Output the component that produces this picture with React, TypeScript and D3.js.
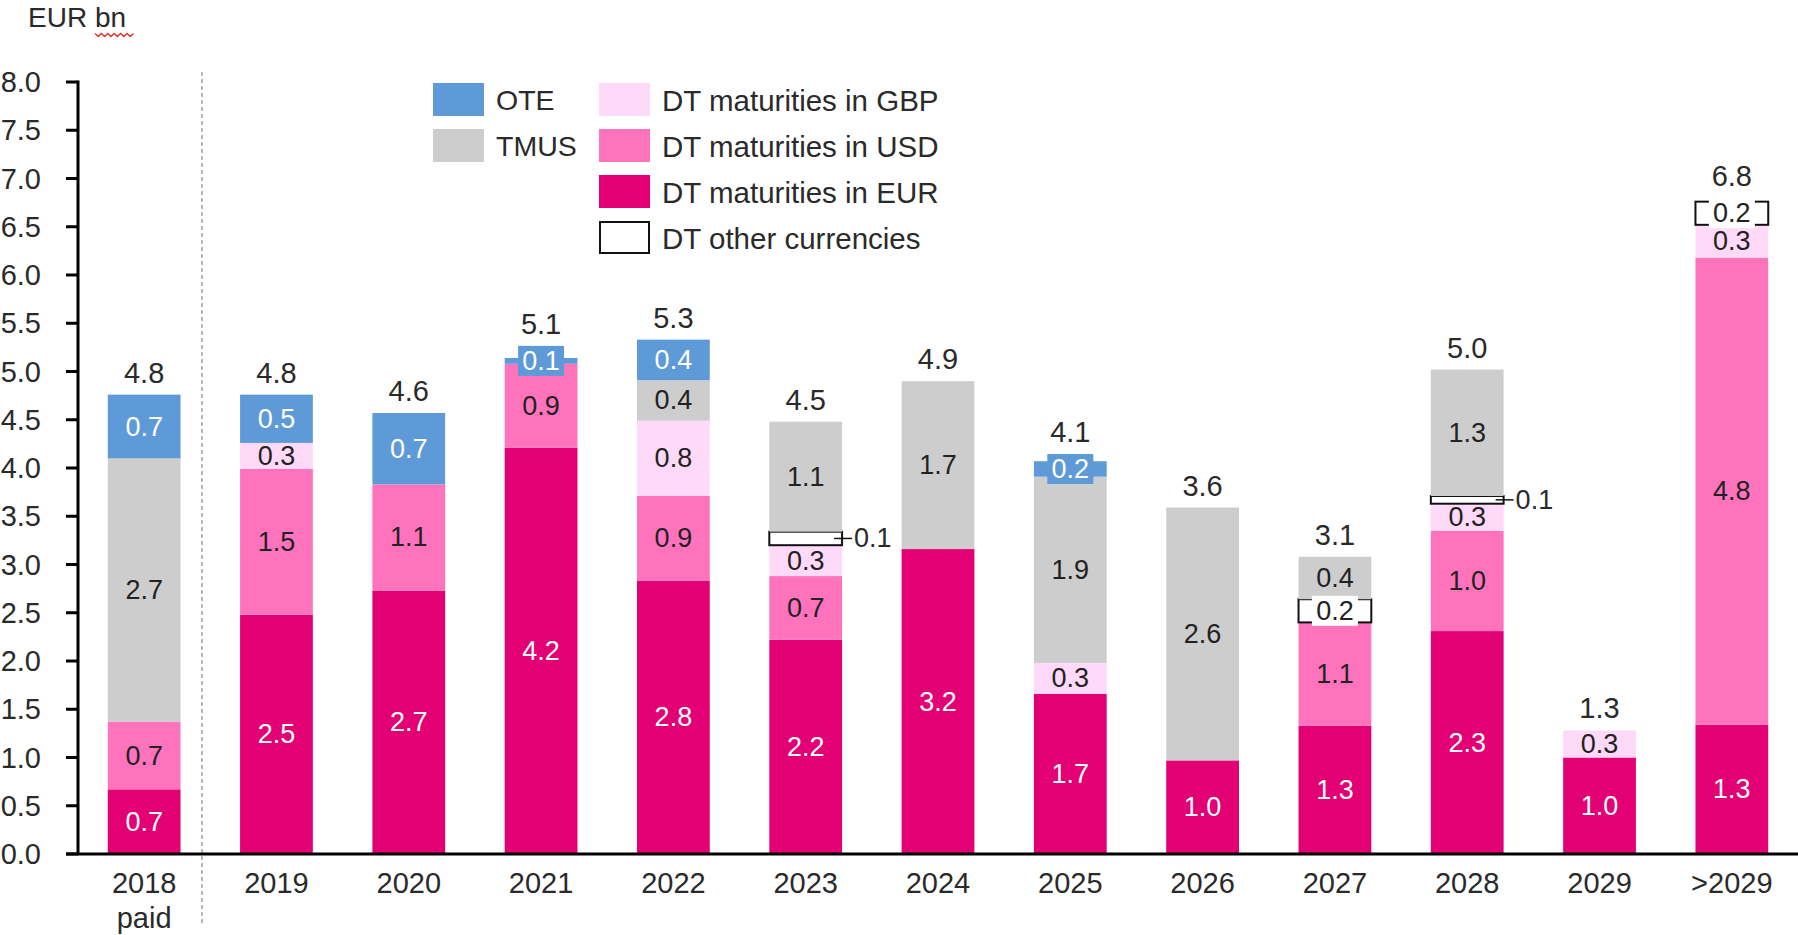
import React from "react";
import * as d3 from "d3";

const categories = ["2018\npaid", "2019", "2020", "2021", "2022", "2023", "2024", "2025", "2026", "2027", "2028", "2029", ">2029"];
const dtEUR = [0.67, 2.48, 2.73, 4.21, 2.83, 2.22, 3.16, 1.66, 0.97, 1.33, 2.31, 1.0, 1.34];
const dtUSD = [0.7, 1.51, 1.1, 0.87, 0.88, 0.66, 0, 0, 0, 1.07, 1.04, 0, 4.84];
const dtGBP = [0, 0.27, 0, 0, 0.78, 0.32, 0, 0.32, 0, 0, 0.28, 0.28, 0.34];
const dtOther = [0, 0, 0, 0, 0, 0.14, 0, 0, 0, 0.24, 0.08, 0, 0.24];
const tmus = [2.73, 0, 0, 0, 0.42, 1.14, 1.74, 1.93, 2.62, 0.44, 1.31, 0, 0];
const ote = [0.66, 0.5, 0.74, 0.06, 0.42, 0, 0, 0.16, 0, 0, 0, 0, 0];
const yTicks = [0, 0.5, 1, 1.5, 2, 2.5, 3, 3.5, 4, 4.5, 5, 5.5, 6, 6.5, 7, 7.5, 8];

const keys = ["eur", "usd", "gbp", "other", "tmus", "ote"];
const colors: Record<string, string> = {
  eur: "#e20074",
  usd: "#ff73bd",
  gbp: "#ffd9f8",
  other: "#ffffff",
  tmus: "#cdcdcd",
  ote: "#5e9ad7",
};
const labelColors: Record<string, string> = {
  eur: "#ffffff",
  usd: "#222222",
  gbp: "#222222",
  other: "#222222",
  tmus: "#222222",
  ote: "#ffffff",
};
const legendLeft = [
  { key: "ote", label: "OTE" },
  { key: "tmus", label: "TMUS" },
];
const legendRight = [
  { key: "gbp", label: "DT maturities in GBP" },
  { key: "usd", label: "DT maturities in USD" },
  { key: "eur", label: "DT maturities in EUR" },
  { key: "other", label: "DT other currencies" },
];

const W = 1798;
const H = 935;
const FONT = "'Liberation Sans', Arial, sans-serif";
const TXT = "#2a2a2a";

export default function App() {
  const rows = categories.map((c, i) => ({
    cat: c,
    eur: dtEUR[i],
    usd: dtUSD[i],
    gbp: dtGBP[i],
    other: dtOther[i],
    tmus: tmus[i],
    ote: ote[i],
  }));
  const stack = d3.stack<any>().keys(keys);
  const series = stack(rows);

  const x = d3.scaleBand<string>().domain(categories).range([78, 1798]).paddingInner(0.45).paddingOuter(0.225);
  const y = d3.scaleLinear().domain([0, 8]).range([854, 82]);
  const bw = x.bandwidth();

  const totals = rows.map((r) => keys.reduce((s, k) => s + (r as any)[k], 0));

  const labelW = 46;
  const labelH = 30;

  const segs: any[] = [];
  series.forEach((s) => {
    s.forEach((d, i) => {
      const v = d[1] - d[0];
      if (v <= 0) return;
      segs.push({ key: s.key, i, y0: d[0], y1: d[1], v });
    });
  });

  const segInfo = segs.map((s) => {
    const cx = x(categories[s.i])! + bw / 2;
    const cy = (y(s.y0) + y(s.y1)) / 2;
    const h = y(s.y0) - y(s.y1);
    const outside = s.key === "other" && s.v < 0.15;
    const needBg = !outside && h < labelH && (s.key === "ote" || s.key === "other");
    return { ...s, cx, cy, h, outside, needBg };
  });

  const topOf = totals.map((t, i) => {
    let top = y(t);
    segInfo.forEach((s) => {
      if (s.i === i && s.needBg) top = Math.min(top, s.cy - labelH / 2);
    });
    return top;
  });

  // squiggle under "bn"
  const sq: string[] = [];
  for (let k = 0; k <= 12; k++) {
    const px = 95 + k * 3.2;
    const py = 35 + (k % 2 === 0 ? -1.5 : 1.5);
    sq.push(`${k === 0 ? "M" : "L"}${px},${py}`);
  }

  return (
    <svg width={W} height={H} style={{ position: "absolute", left: 0, top: 0, display: "block" }} fontFamily={FONT}>
      <rect x={0} y={0} width={W} height={H} fill="#fff" />
      <text x={28} y={20} fontSize={28} fill={TXT} dominantBaseline="middle">EUR bn</text>
      <path d={sq.join("")} fill="none" stroke="#e03030" strokeWidth={1.3} />

      {/* separator */}
      <line x1={202} x2={202} y1={72} y2={923} stroke="#888" strokeWidth={1.2} strokeDasharray="4,3" />

      {/* bars */}
      {segInfo.map((s, j) => (
        <rect
          key={"r" + j}
          x={x(categories[s.i])!}
          width={bw}
          y={y(s.y1)}
          height={s.h}
          fill={colors[s.key]}
          stroke={s.key === "other" ? "#111" : "none"}
          strokeWidth={s.key === "other" ? 2 : 0}
        />
      ))}

      {/* segment labels */}
      {segInfo.map((s, j) => {
        const txt = s.v.toFixed(1);
        if (s.outside) {
          const xr = x(categories[s.i])! + bw;
          return (
            <g key={"l" + j}>
              <line x1={xr - 8} x2={xr + 10} y1={s.cy} y2={s.cy} stroke="#111" strokeWidth={1.5} />
              <text x={xr + 12} y={s.cy} fontSize={27} fill={TXT} dominantBaseline="central">{txt}</text>
            </g>
          );
        }
        return (
          <g key={"l" + j}>
            {s.needBg && (
              <rect x={s.cx - labelW / 2} y={s.cy - labelH / 2} width={labelW} height={labelH} fill={colors[s.key]} />
            )}
            <text x={s.cx} y={s.cy} fontSize={27} fill={labelColors[s.key]} textAnchor="middle" dominantBaseline="central">
              {txt}
            </text>
          </g>
        );
      })}

      {/* totals */}
      {totals.map((t, i) => (
        <text key={"t" + i} x={x(categories[i])! + bw / 2} y={topOf[i] - 22} fontSize={29} fill={TXT} textAnchor="middle" dominantBaseline="central">
          {t.toFixed(1)}
        </text>
      ))}

      {/* y axis */}
      <line x1={78} x2={78} y1={y(8) - 1.5} y2={y(0)} stroke="#000" strokeWidth={3} />
      {yTicks.map((t) => (
        <g key={"yt" + t}>
          <line x1={66} x2={78} y1={y(t)} y2={y(t)} stroke="#000" strokeWidth={3} />
          <text x={41} y={y(t)} fontSize={29} fill={TXT} textAnchor="end" dominantBaseline="central">
            {t.toFixed(1)}
          </text>
        </g>
      ))}
      {/* x axis */}
      <line x1={66} x2={W} y1={y(0)} y2={y(0)} stroke="#000" strokeWidth={3} />
      {categories.map((c) =>
        c.split("\n").map((part, k) => (
          <text key={c + k} x={x(c)! + bw / 2} y={883 + k * 35} fontSize={29} fill={TXT} textAnchor="middle" dominantBaseline="central">
            {part}
          </text>
        ))
      )}

      {/* legend */}
      {legendLeft.map((l, k) => (
        <g key={l.key}>
          <rect x={433} y={83 + k * 46} width={51} height={33} fill={colors[l.key]} />
          <text x={496} y={100 + k * 46} fontSize={28.5} fill={TXT} dominantBaseline="central">{l.label}</text>
        </g>
      ))}
      {legendRight.map((l, k) => (
        <g key={l.key}>
          <rect
            x={l.key === "other" ? 600 : 599}
            y={(l.key === "other" ? 84 : 83) + k * 46}
            width={l.key === "other" ? 49 : 51}
            height={l.key === "other" ? 31 : 33}
            fill={colors[l.key]}
            stroke={l.key === "other" ? "#111" : "none"}
            strokeWidth={2}
          />
          <text x={662} y={100 + k * 46} fontSize={29.5} fill={TXT} dominantBaseline="central">{l.label}</text>
        </g>
      ))}
    </svg>
  );
}
